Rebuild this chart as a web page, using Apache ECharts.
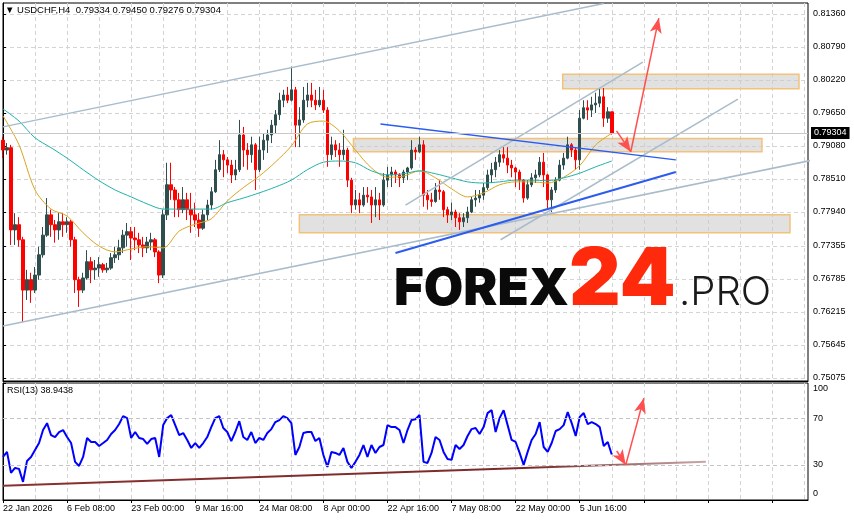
<!DOCTYPE html>
<html><head><meta charset="utf-8">
<script src="https://cdn.jsdelivr.net/npm/echarts@6/dist/echarts.min.js"></script>
<style>html,body{margin:0;padding:0;background:#fff}#c{width:854px;height:521px}</style>
</head><body><div id="c"></div>
<script>
// ---- data (one slot = 4 H4 bars) ----
const symbolName = 'USDCHF,H4';
const lastBar = ['0.79334', '0.79450', '0.79276', '0.79304'];
const rsiTitle = 'RSI(13) 38.9438';
const timeLabels = ['22 Jan 2026','6 Feb 08:00','23 Feb 00:00','9 Mar 16:00','24 Mar 08:00','8 Apr 00:00','22 Apr 16:00','7 May 08:00','22 May 00:00','5 Jun 16:00'];
const priceTicks = [0.75075,0.75645,0.76215,0.76785,0.77355,0.77940,0.78510,0.79080,0.79650,0.80220,0.80790,0.81360];
const rsiTicks = [0, 30, 70, 100];
const rsiLevels = [30, 70];
const lastPrice = 0.79304;

const opens = [.7918,.7901,.7905,.7763,.7772,.7746,.7659,.7677,.7659,.7685,
.7720,.7754,.7789,.7772,.7763,.7777,.7772,.7777,.7746,.7677,
.7659,.7680,.7708,.7694,.7697,.7703,.7694,.7697,.7715,.7720,
.7732,.7754,.7760,.7749,.7746,.7737,.7732,.7742,.7746,.7725,
.7685,.7789,.7841,.7832,.7815,.7798,.7815,.7798,.7789,.7780,
.7766,.7789,.7806,.7829,.7867,.7893,.7884,.7875,.7858,.7867,
.7927,.7901,.7893,.7910,.7867,.7901,.7918,.7927,.7944,.7962,
.7987,.7996,.7987,.8005,.7944,.7953,.7987,.7996,.7987,.7979,
.7987,.7970,.7893,.7910,.7901,.7893,.7901,.7849,.7806,.7815,
.7806,.7823,.7820,.7806,.7815,.7806,.7849,.7858,.7863,.7858,
.7853,.7863,.7870,.7901,.7898,.7910,.7823,.7815,.7812,.7832,
.7829,.7798,.7789,.7794,.7784,.7777,.7784,.7794,.7815,.7818,
.7823,.7836,.7858,.7867,.7880,.7893,.7887,.7875,.7870,.7863,
.7849,.7818,.7841,.7853,.7858,.7880,.7858,.7815,.7832,.7849,
.7875,.7887,.7910,.7901,.7884,.7956,.7974,.7970,.7979,.7982,
.7993,.7956,.7967];
const closes = [.7901,.7905,.7763,.7772,.7746,.7659,.7677,.7659,.7685,.7720,
.7754,.7789,.7772,.7763,.7777,.7772,.7777,.7746,.7677,.7659,
.7680,.7708,.7694,.7697,.7703,.7694,.7697,.7715,.7720,.7732,
.7754,.7760,.7749,.7746,.7737,.7732,.7742,.7746,.7725,.7685,
.7789,.7841,.7832,.7815,.7798,.7815,.7798,.7789,.7780,.7766,
.7789,.7806,.7829,.7867,.7893,.7884,.7875,.7858,.7867,.7927,
.7901,.7893,.7910,.7867,.7901,.7918,.7927,.7944,.7962,.7987,
.7996,.7987,.8005,.7944,.7953,.7987,.7996,.7987,.7979,.7987,
.7970,.7893,.7910,.7901,.7893,.7901,.7849,.7806,.7815,.7806,
.7823,.7820,.7806,.7815,.7806,.7849,.7858,.7863,.7858,.7853,
.7863,.7870,.7901,.7898,.7910,.7823,.7815,.7812,.7832,.7829,
.7798,.7789,.7794,.7784,.7777,.7784,.7794,.7815,.7818,.7823,
.7836,.7858,.7867,.7880,.7893,.7887,.7875,.7870,.7863,.7849,
.7818,.7841,.7853,.7858,.7880,.7858,.7815,.7832,.7849,.7875,
.7887,.7910,.7901,.7884,.7956,.7974,.7970,.7979,.7982,.7993,
.7956,.7967,.79304];
const highs = [.7924,.7913,.7910,.7792,.7785,.7751,.7694,.7689,.7699,.7734,
.7768,.7818,.7798,.7780,.7792,.7792,.7785,.7780,.7751,.7682,
.7689,.7728,.7716,.7711,.7716,.7706,.7706,.7723,.7734,.7746,
.7763,.7775,.7768,.7768,.7758,.7751,.7751,.7758,.7749,.7728,
.7798,.7879,.7879,.7837,.7827,.7837,.7827,.7827,.7810,.7792,
.7798,.7815,.7837,.7884,.7918,.7901,.7889,.7884,.7884,.7953,
.7941,.7913,.7924,.7913,.7924,.7930,.7936,.7953,.7970,.8000,
.8005,.8010,.8045,.8010,.7975,.8010,.8017,.8017,.8005,.8010,
.8005,.7975,.7924,.7918,.7913,.7936,.7905,.7853,.7832,.7827,
.7837,.7837,.7832,.7837,.7827,.7861,.7872,.7872,.7867,.7861,
.7867,.7872,.7918,.7906,.7924,.7918,.7832,.7827,.7844,.7849,
.7832,.7803,.7810,.7798,.7792,.7792,.7803,.7820,.7832,.7832,
.7844,.7867,.7879,.7889,.7901,.7906,.7906,.7884,.7872,.7867,
.7851,.7849,.7861,.7867,.7889,.7896,.7860,.7837,.7854,.7884,
.7896,.7924,.7913,.7905,.7970,.7987,.7987,.7993,.8000,.8008,
.8008,.7975,.79450];
const lows = [.7887,.7893,.7737,.7737,.7734,.7604,.7642,.7637,.7654,.7677,
.7715,.7751,.7751,.7741,.7746,.7751,.7758,.7734,.7654,.7630,
.7654,.7677,.7671,.7677,.7682,.7689,.7689,.7694,.7706,.7711,
.7723,.7734,.7711,.7728,.7723,.7716,.7723,.7728,.7716,.7671,
.7680,.7780,.7815,.7785,.7785,.7792,.7780,.7758,.7768,.7751,
.7763,.7780,.7798,.7827,.7863,.7854,.7861,.7844,.7849,.7863,
.7872,.7867,.7879,.7832,.7863,.7884,.7896,.7913,.7930,.7953,
.7975,.7982,.7985,.7906,.7906,.7948,.7975,.7975,.7970,.7975,
.7965,.7872,.7884,.7889,.7872,.7884,.7837,.7792,.7798,.7792,
.7803,.7810,.7775,.7785,.7780,.7803,.7837,.7837,.7844,.7837,
.7844,.7849,.7867,.7884,.7896,.7803,.7798,.7803,.7810,.7815,
.7785,.7775,.7780,.7768,.7763,.7768,.7775,.7792,.7803,.7810,
.7815,.7832,.7844,.7854,.7872,.7879,.7861,.7854,.7837,.7832,
.7810,.7815,.7837,.7844,.7854,.7837,.7798,.7794,.7827,.7847,
.7867,.7885,.7889,.7867,.7867,.7954,.7953,.7958,.7965,.7975,
.7941,.7948,.79276];

// moving averages, one reading every 4 slots
const maFast = [.7960,.7910,.7832,.7799,.7787,.7758,.7735,.7725,.7730,.7734,.7732,.7761,.7773,.7782,.7813,.7836,.7856,.7880,.7908,.7946,.7951,.7934,.7901,.7870,.7854,.7856,.7865,.7853,.7834,.7820,.7827,.7841,.7846,.7846,.7844,.7854,.7874,.7910,.7930];
const maSlow = [.7972,.7951,.7922,.7905,.7887,.7867,.7848,.7832,.7820,.7808,.7799,.7799,.7799,.7799,.7810,.7818,.7827,.7837,.7849,.7867,.7880,.7882,.7879,.7865,.7858,.7860,.7865,.7860,.7853,.7846,.7844,.7846,.7849,.7849,.7848,.7853,.7861,.7872,.7882];

const rsiValues = [36.8,41.1,23.2,27.4,26.6,15.5,33.4,36.8,42.8,48.7,
59.8,65.7,55.5,53.8,58.1,59.8,53.8,48.7,32.6,29.1,
36.8,53.0,49.6,49.6,46.2,48.7,51.3,56.4,59.8,64.9,
71.7,70.0,53.0,58.1,53.0,52.1,47.9,52.1,53.0,36.8,
64.0,70.0,72.6,64.0,55.5,57.2,51.3,44.5,48.7,44.5,
48.7,53.8,62.3,70.0,71.7,61.5,58.1,50.4,58.1,67.4,
53.8,51.3,58.1,48.7,53.0,51.3,57.2,60.6,66.6,68.3,
71.7,70.0,65.7,38.5,45.3,57.2,58.1,58.1,50.4,53.0,
38.5,28.3,41.1,40.2,38.5,44.5,32.6,27.4,32.6,38.5,
47.0,36.8,47.0,40.2,45.3,47.0,64.0,62.3,62.3,59.8,
48.7,59.8,68.3,69.1,72.6,32.6,31.7,40.2,53.8,51.3,
41.1,35.1,34.3,47.0,43.6,47.0,54.7,60.6,61.5,56.4,
62.3,74.3,76.8,58.1,70.0,76.8,64.0,51.3,49.6,40.2,
30.0,41.1,51.3,56.4,66.6,45.3,41.1,48.7,59.0,60.6,
64.0,75.1,65.7,54.7,70.9,74.3,64.9,66.6,64.9,62.3,
46.2,49.6,38.9];

// drawn objects: [slot, price] anchor points
const channelUpper = [[0, .7941], [150, .8154]];
const channelLower = [[0, .7597], [213, .7899]];
const innerLineA = [[100.5, .7806], [159.75, .8053]];
const innerLineB = [[124.25, .7746], [183.5, .7989]];
const blueDown = [[94.25, .7946], [168, .7884]];
const blueUp = [[98, .7723], [168, .7863]];
const zoneTop = [[139.75, .8032], [198.75, .8007]];
const zoneMid = [[87.5, .7921], [189.5, .7898]];
const zoneLow = [[74, .7789], [196.5, .7758]];
const arrowDown = [[153.2, .7934], [156.75, .7898]];
const arrowUp = [[156.75, .7898], [163.75, .8129]];
const rsiTrend = [[0, 12.1], [175.5, 32.6]];
const rsiArrowDown = [[153.25, 41.9], [155.5, 30.0]];
const rsiArrowUp = [[155.5, 30.0], [160, 87.0]];

// ---- layout constants ----
const SLOTS = 202, MA_STEP = 4, LABEL_EVERY = 16, GRID_EVERY = 8;
const FONT = 'Liberation Sans';
const cats = Array.from({length: SLOTS}, (_, i) => String(i));
const candles = opens.map((o, i) => [o, closes[i], lows[i], highs[i]]);

const chart = echarts.init(document.getElementById('c'), null, {renderer: 'canvas'});

function seg(pts, color, width, z) {
  return {type: 'line', xAxisIndex: 1, yAxisIndex: 0, data: pts, symbol: 'none', clip: false, silent: true, z: z || 4,
    lineStyle: {color: color, width: width}};
}
function pair(pts) {
  return [{coord: pts[0]}, {coord: pts[1]}];
}
const dashed = {color: '#d4d4d4', type: [4, 3], width: 1};

const option = {
  animation: false,
  backgroundColor: '#ffffff',
  textStyle: {fontFamily: FONT},
  grid: [
    {left: 3, top: 3, right: 46, height: 378, show: true, borderColor: '#000', borderWidth: 1, backgroundColor: 'transparent'},
    {left: 3, top: 383, right: 46, height: 117, show: true, borderColor: '#000', borderWidth: 1, backgroundColor: 'transparent'}
  ],
  xAxis: [
    {type: 'category', gridIndex: 0, data: cats, boundaryGap: false,
      axisLine: {lineStyle: {color: '#000'}}, axisTick: {show: false}, axisLabel: {show: false},
      splitLine: {show: true, interval: GRID_EVERY - 1, lineStyle: dashed}},
    {type: 'value', gridIndex: 0, min: 0, max: SLOTS - 1, show: false},
    {type: 'category', gridIndex: 1, data: cats, boundaryGap: false,
      axisLine: {lineStyle: {color: '#000'}},
      axisTick: {show: true, interval: LABEL_EVERY - 1, length: 3, lineStyle: {color: '#000'}},
      axisLabel: {interval: LABEL_EVERY - 1, align: 'left', color: '#000', fontSize: 9, fontFamily: FONT, margin: 4,
        formatter: (v, idx) => { const k = idx / LABEL_EVERY; return (Number.isInteger(k) && timeLabels[k]) ? timeLabels[k] : ''; }},
      splitLine: {show: true, interval: GRID_EVERY - 1, lineStyle: dashed}},
    {type: 'value', gridIndex: 1, min: 0, max: SLOTS - 1, show: false}
  ],
  yAxis: [
    {type: 'value', gridIndex: 0, position: 'right', min: 0.7502, max: 0.8155, scale: true,
      axisLine: {show: true, lineStyle: {color: '#000'}},
      axisTick: {show: true, length: 3, customValues: priceTicks, lineStyle: {color: '#000'}},
      axisLabel: {customValues: priceTicks, color: '#000', fontSize: 9, fontFamily: FONT, margin: 5,
        formatter: v => v.toFixed(5)},
      splitLine: {show: true, lineStyle: dashed}},
    {type: 'value', gridIndex: 1, position: 'right', min: 0, max: 100,
      axisLine: {show: true, lineStyle: {color: '#000'}},
      axisTick: {show: true, length: 3, customValues: rsiTicks, lineStyle: {color: '#000'}},
      axisLabel: {customValues: rsiTicks, color: '#000', fontSize: 9, fontFamily: FONT, margin: 5,
        formatter: v => v === 100 ? '{t|100}' : (v === 0 ? '{b|0}' : String(v)),
        rich: {t: {padding: [12, 0, 0, 0], fontSize: 9, color: '#000'}, b: {padding: [0, 0, 12, 0], fontSize: 9, color: '#000'}}},
      splitLine: {show: false}}
  ],
  series: [
    {type: 'line', xAxisIndex: 1, yAxisIndex: 0, data: [], z: 1, silent: true,
      markLine: {silent: true, symbol: ['none', 'none'], animation: false, precision: 5,
        lineStyle: {color: '#c8c8c8', type: 'solid', width: 1},
        label: {position: 'end', distance: 3, formatter: lastPrice.toFixed(5), color: '#fff', backgroundColor: '#000',
          padding: [2, 3, 1, 3], fontSize: 9, fontFamily: FONT},
        data: [{yAxis: lastPrice}]}},
    {type: 'candlestick', xAxisIndex: 0, yAxisIndex: 0, data: candles, barWidth: 3, z: 2,
      itemStyle: {color: '#2F4F4F', color0: '#FF0000', borderColor: '#2F4F4F', borderColor0: '#FF0000', borderWidth: 1}},
    {type: 'line', xAxisIndex: 1, yAxisIndex: 0, data: maFast.map((v, i) => [i * MA_STEP, v]), symbol: 'none', smooth: 0.3, z: 3,
      lineStyle: {color: '#DAA520', width: 1}},
    {type: 'line', xAxisIndex: 1, yAxisIndex: 0, data: maSlow.map((v, i) => [i * MA_STEP, v]), symbol: 'none', smooth: 0.3, z: 3,
      lineStyle: {color: '#20B2AA', width: 1}},
    seg(channelUpper, '#a9bccb', 1.5),
    seg(channelLower, '#a9bccb', 1.5),
    seg(innerLineA, '#a9bccb', 1.5),
    seg(innerLineB, '#a9bccb', 1.5),
    seg(blueDown, '#2a5cf0', 1.5),
    seg(blueUp, '#2a5cf0', 2),
    {type: 'line', xAxisIndex: 1, yAxisIndex: 0, data: [], z: 5, silent: true,
      markArea: {silent: true, itemStyle: {color: 'rgba(200,200,200,0.55)', borderColor: '#f3c27a', borderWidth: 1.5},
        data: [pair(zoneTop), pair(zoneMid), pair(zoneLow)]},
      markLine: {silent: true, symbol: ['none', 'arrow'], symbolSize: [9, 15], label: {show: false}, precision: 5,
        lineStyle: {color: '#ff4f4f', width: 1.5, type: 'solid'},
        data: [pair(arrowDown), pair(arrowUp)]}},
    {type: 'line', xAxisIndex: 2, yAxisIndex: 1, data: rsiValues, symbol: 'none', z: 3,
      lineStyle: {color: '#0000FF', width: 2}},
    {type: 'line', xAxisIndex: 3, yAxisIndex: 1, data: rsiTrend, symbol: 'none', clip: false, z: 2,
      lineStyle: {width: 2, color: new echarts.graphic.LinearGradient(0, 0, 1, 0, [
        {offset: 0, color: '#8a3030'}, {offset: 0.75, color: '#7a2a2a'}, {offset: 1, color: '#c9a8a8'}])}},
    {type: 'line', xAxisIndex: 3, yAxisIndex: 1, data: [], z: 1, silent: true,
      markLine: {silent: true, symbol: ['none', 'none'], label: {show: false}, lineStyle: {color: '#c4c4c4', type: [4, 3], width: 1},
        data: rsiLevels.map(v => ({yAxis: v}))}},
    {type: 'line', xAxisIndex: 3, yAxisIndex: 1, data: [], z: 5, silent: true,
      markLine: {silent: true, symbol: ['none', 'arrow'], symbolSize: [9, 15], label: {show: false}, precision: 5,
        lineStyle: {color: '#ff4f4f', width: 1.5, type: 'solid'},
        data: [pair(rsiArrowDown), pair(rsiArrowUp)]}}
  ],
  graphic: [
    {type: 'text', left: 5, top: 5, z: 100, style: {text: '\u25BC ' + symbolName + '  ' + lastBar.join(' '), fontSize: 9.5, fontFamily: FONT, fill: '#000'}},
    {type: 'text', left: 7, top: 386, z: 100, style: {text: rsiTitle, fontSize: 9, fontFamily: FONT, fill: '#000'}},
    {type: 'text', z: 100, x: 394, y: 290, style: {text: 'FOREX', fontSize: 51, fontWeight: 900, fontFamily: 'Inter', fill: '#0a0a0a', verticalAlign: 'middle', align: 'left'}},
    {type: 'text', z: 100, x: 569, y: 280.5, style: {text: '24', fontSize: 80, fontWeight: 900, fontFamily: 'Inter', fill: '#ff2a0c', verticalAlign: 'middle', align: 'left'}},
    {type: 'text', z: 100, x: 679, y: 292.5, style: {text: '.PRO', fontSize: 40, fontWeight: 300, fontFamily: 'Inter', fill: '#1a1a1a', verticalAlign: 'middle', align: 'left'}}
  ]
};
chart.setOption(option);
</script></body></html>
